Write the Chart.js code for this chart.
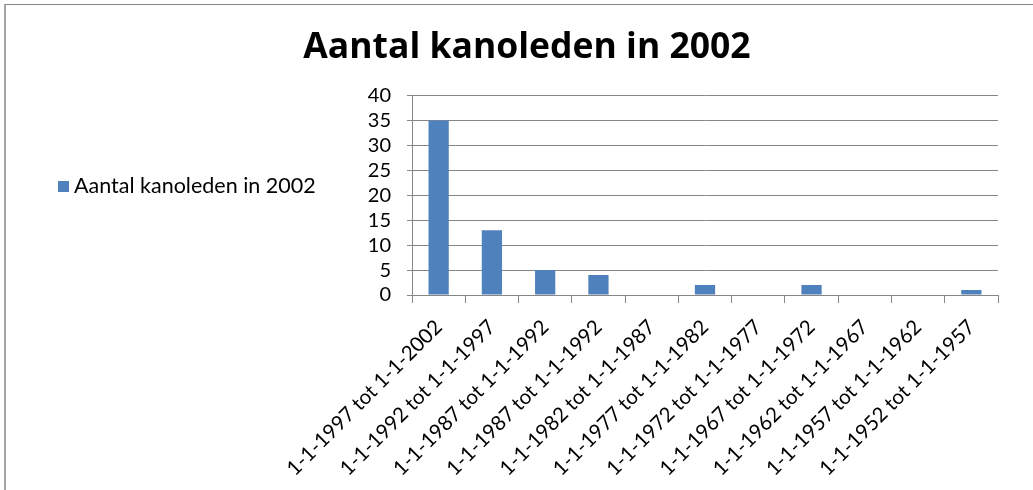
<!DOCTYPE html>
<html>
<head>
<meta charset="utf-8">
<title>Aantal kanoleden in 2002</title>
<script src="https://cdn.jsdelivr.net/npm/chart.js@4/dist/chart.umd.min.js"></script>
<style>
  html, body { margin: 0; padding: 0; background: #fff; }
  #wrap { position: relative; width: 1033px; height: 490px; overflow: hidden; }
  #frame { position: absolute; left: 4px; top: 4px; right: -10px; bottom: -10px;
           border-top: 1px solid #868686; border-left: 2px solid #a6a6a6; }
  #legend { position: absolute; left: 58px; top: 172px; font: 21.5px Lato, sans-serif; color: #000;
            white-space: nowrap; }
  #legend span.box { display: inline-block; width: 11px; height: 11px; background: #4f81bd;
                     margin-right: 5px; vertical-align: 1px; }
  canvas { position: absolute; left: 0; top: 0; }
</style>
</head>
<body>
<div id="wrap">
  <div id="frame"></div>
  <canvas id="barChart" width="1033" height="490"></canvas>
  <div id="legend"><span class="box"></span>Aantal kanoleden in 2002</div>
</div>
<script>
var chartTitle = 'Aantal kanoleden in 2002';
var seriesName = 'Aantal kanoleden in 2002';
var periods = [
  '1-1-1997 tot 1-1-2002',
  '1-1-1992 tot 1-1-1997',
  '1-1-1987 tot 1-1-1992',
  '1-1-1987 tot 1-1-1992',
  '1-1-1982 tot 1-1-1987',
  '1-1-1977 tot 1-1-1982',
  '1-1-1972 tot 1-1-1977',
  '1-1-1967 tot 1-1-1972',
  '1-1-1962 tot 1-1-1967',
  '1-1-1957 tot 1-1-1962',
  '1-1-1952 tot 1-1-1957'
];
var members = [35, 13, 5, 4, 0, 2, 0, 2, 0, 0, 1];
var yTicks = [0, 5, 10, 15, 20, 25, 30, 35, 40];

var fontFamily = "Lato, 'Liberation Sans', sans-serif";
var gridColor = '#868686';

function barChartFactory() {
  var ctx = document.getElementById('barChart').getContext('2d');

  new Chart(ctx, {
    type: 'bar',
    data: {
      labels: periods,
      datasets: [{
        label: seriesName,
        data: members,
        backgroundColor: '#4f81bd',
        borderWidth: 0,
        barPercentage: 0.38,
        categoryPercentage: 1
      }]
    },
    options: {
      responsive: false,
      animation: false,
      layout: { padding: { left: 56, right: 35, top: 0, bottom: 0 } },
      plugins: {
        legend: { display: false },
        tooltip: { enabled: false },
        title: {
          display: true,
          text: chartTitle,
          color: '#000',
          font: { family: "'Open Sans', sans-serif", size: 35.5, weight: 'bold' },
          padding: { top: 27, bottom: 26 }
        }
      },
      scales: {
        x: {
          grid: {
            offset: true,
            drawOnChartArea: false,
            drawTicks: true,
            tickLength: 8,
            color: gridColor
          },
          border: { color: gridColor },
          ticks: {
            color: '#000',
            font: { family: fontFamily, size: 20.5 },
            minRotation: 45,
            maxRotation: 45,
            autoSkip: false,
            padding: 12
          },
          afterFit: function(scale) { scale.height = 195; }
        },
        y: {
          min: yTicks[0],
          max: yTicks[yTicks.length - 1],
          afterBuildTicks: function(scale) {
            scale.ticks = yTicks.map(function(v) { return { value: v }; });
          },
          grid: { color: gridColor, tickLength: 5 },
          border: { color: gridColor },
          ticks: {
            color: '#000',
            font: { family: fontFamily, size: 20 },
            padding: 16,
            autoSkip: false
          },
          afterFit: function(scale) { scale.width = 356; }
        }
      }
    }
  });
}

barChartFactory();
</script>
</body>
</html>
